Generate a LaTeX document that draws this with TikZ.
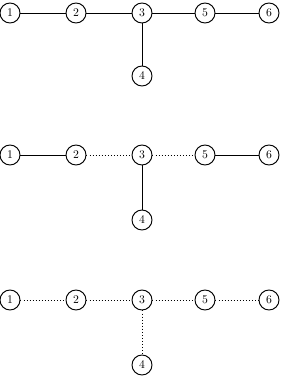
\documentclass[tikz,border=0pt]{standalone}
\usetikzlibrary{positioning}
\tikzset{
  vtx/.style={draw, circle, thick, inner sep=0pt, minimum size=0.6cm, font=\normalsize},
  solidedge/.style={draw, semithick},
  dotedge/.style={draw, semithick, dotted}
}
\begin{document}
\begin{tikzpicture}
        % Frame: 1px -> 0.03cm
        \useasboundingbox (0,0) rectangle (8.49,-11.37);
        % Row positions
        \foreach \r/\y/\yb in {a/-0.39/-2.28, b/-4.65/-6.60, c/-9.00/-10.95}{
            \node[vtx] (\r1) at (0.30,\y) {1};
            \node[vtx] (\r2) at (2.28,\y) {2};
            \node[vtx] (\r3) at (4.26,\y) {3};
            \node[vtx] (\r5) at (6.15,\y) {5};
            \node[vtx] (\r6) at (8.07,\y) {6};
            \node[vtx] (\r4) at (4.26,\yb) {4};
        }
        % Top tree
        \path[solidedge] (a1) -- (a2);
        \path[solidedge] (a2) -- (a3);
        \path[solidedge] (a3) -- (a5);
        \path[solidedge] (a5) -- (a6);
        \path[solidedge] (a3) -- (a4);
        % Middle tree
        \path[solidedge] (b1) -- (b2);
        \path[dotedge] (b2) -- (b3);
        \path[dotedge] (b3) -- (b5);
        \path[solidedge] (b5) -- (b6);
        \path[solidedge] (b3) -- (b4);
        % Bottom tree
        \path[dotedge] (c1) -- (c2);
        \path[dotedge] (c2) -- (c3);
        \path[dotedge] (c3) -- (c5);
        \path[dotedge] (c5) -- (c6);
        \path[dotedge] (c3) -- (c4);
    \end{tikzpicture}
\end{document}
